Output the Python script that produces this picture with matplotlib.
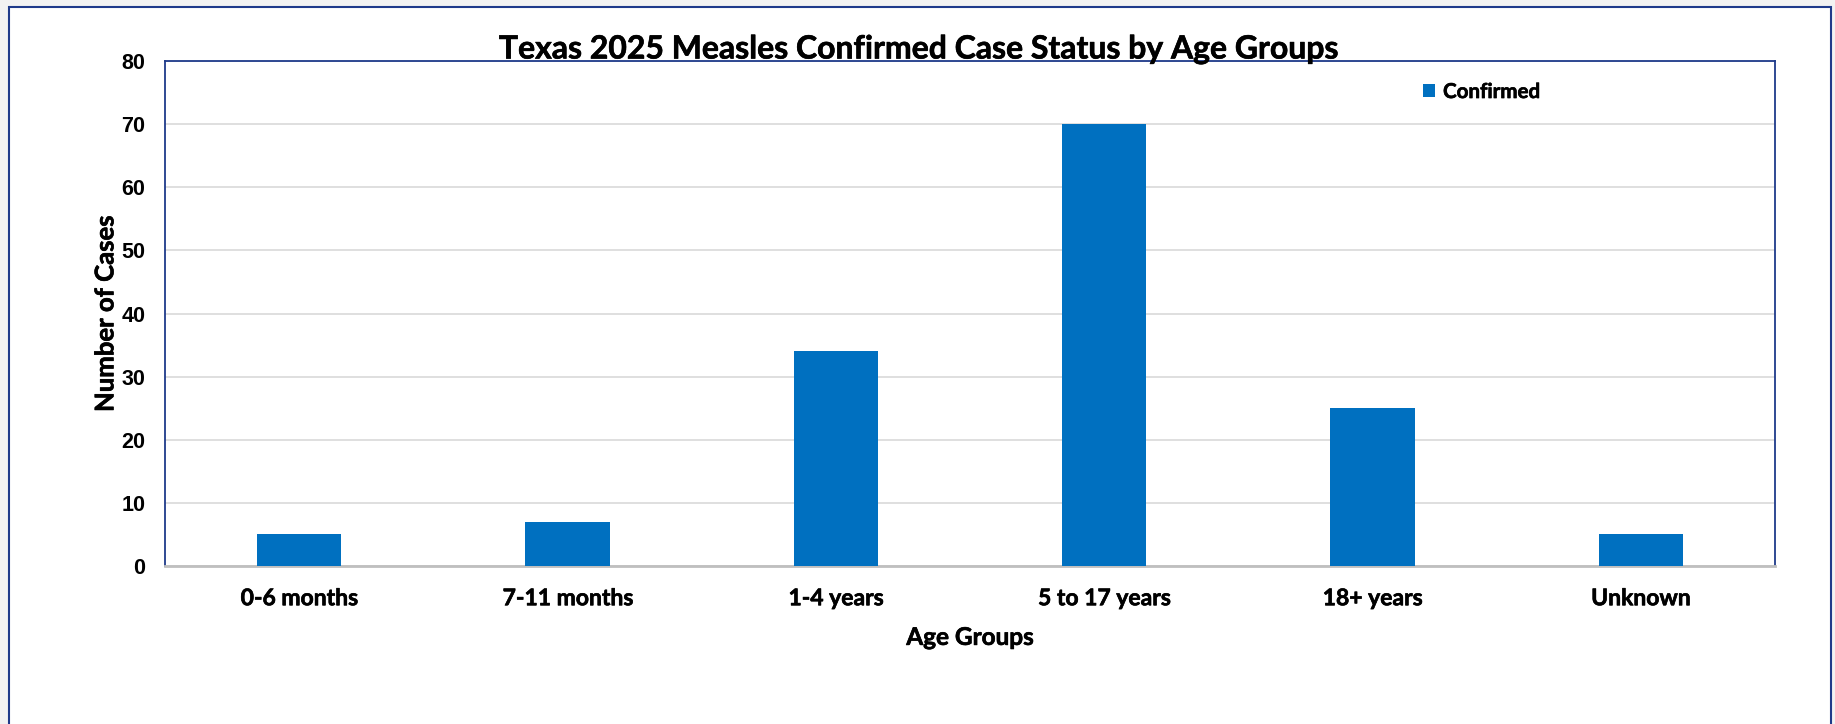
import matplotlib.pyplot as plt
import matplotlib.patheffects as pe
from matplotlib.patches import Rectangle
from matplotlib.font_manager import findfont, FontProperties

# ------------ Data ------------
age_groups = ["0-6 months", "7-11 months", "1-4 years", "5 to 17 years", "18+ years", "Unknown"]
confirmed = [5, 7, 34, 70, 25, 5]
y_ticks = [0, 10, 20, 30, 40, 50, 60, 70, 80]

bar_color = "#0070C0"
navy = "#1F3A8A"

# Calibri is not available, Lato is the closest humanist sans here
label_font = "Lato"
tick_font = "Liberation Sans Narrow"
if "Narrow" not in findfont(FontProperties(family=tick_font)):
    tick_font = "Liberation Sans"

# a thin stroke makes Lato Bold look as heavy as Calibri Bold
heavy = [pe.withStroke(linewidth=0.45, foreground="black")]

# ------------ Plotting ------------
fig = plt.figure(figsize=(18.35, 7.24), dpi=100)
fig.patch.set_facecolor("#F2F2F2")

# white chart area with a navy frame (bottom edge runs off the picture)
frame = Rectangle((9 / 1835, -0.05), (1831 - 9) / 1835, (724 - 7) / 724 + 0.05,
                  transform=fig.transFigure, facecolor="white", edgecolor=navy,
                  linewidth=1.5, zorder=-1)
fig.patches.append(frame)

ax = fig.add_axes([165 / 1835, 158 / 724, 1610 / 1835, 505 / 724])
ax.set_facecolor("white")

x = range(len(age_groups))
ax.bar(x, confirmed, width=0.314, color=bar_color, label="Confirmed", zorder=3)

ax.set_xlim(-0.5, len(age_groups) - 0.5)
ax.set_ylim(0, 80)
ax.set_yticks(y_ticks)
ax.set_xticks(list(x))
ax.set_xticklabels(age_groups, fontfamily=label_font, fontweight="bold", fontsize=16.5,
                   path_effects=heavy)
for lab in ax.get_yticklabels():
    lab.set_fontfamily(tick_font)
    lab.set_fontweight("bold")
    lab.set_fontsize(15.5)

ax.tick_params(axis="both", length=0)
ax.tick_params(axis="x", pad=16)
ax.tick_params(axis="y", pad=14)
ax.yaxis.grid(True, color="#D9D9D9", linewidth=1.2, zorder=0)
ax.set_axisbelow(True)

for side in ["left", "top", "right"]:
    ax.spines[side].set_color(navy)
    ax.spines[side].set_linewidth(1.3)
ax.spines["bottom"].set_color("#BFBFBF")
ax.spines["bottom"].set_linewidth(2)

ax.set_xlabel("Age Groups", fontfamily=label_font, fontweight="bold", fontsize=17.5,
              labelpad=12, path_effects=heavy)
ax.set_ylabel("Number of Cases", fontfamily=label_font, fontweight="bold", fontsize=18.5,
              labelpad=3, path_effects=heavy)

fig.text(0.501, 1 - 49 / 724, "Texas 2025 Measles Confirmed Case Status by Age Groups",
         ha="center", va="center", fontfamily=label_font, fontweight="bold", fontsize=23,
         path_effects=heavy)

leg = ax.legend(loc="upper left", bbox_to_anchor=((1404 - 165) / 1610, 0.995), frameon=False,
                handlelength=0.6, handleheight=0.6, handletextpad=0.4,
                prop={"family": label_font, "weight": "bold", "size": 14.8})
for t in leg.get_texts():
    t.set_path_effects(heavy)

fig.savefig("out.png", dpi=100, facecolor=fig.get_facecolor())
